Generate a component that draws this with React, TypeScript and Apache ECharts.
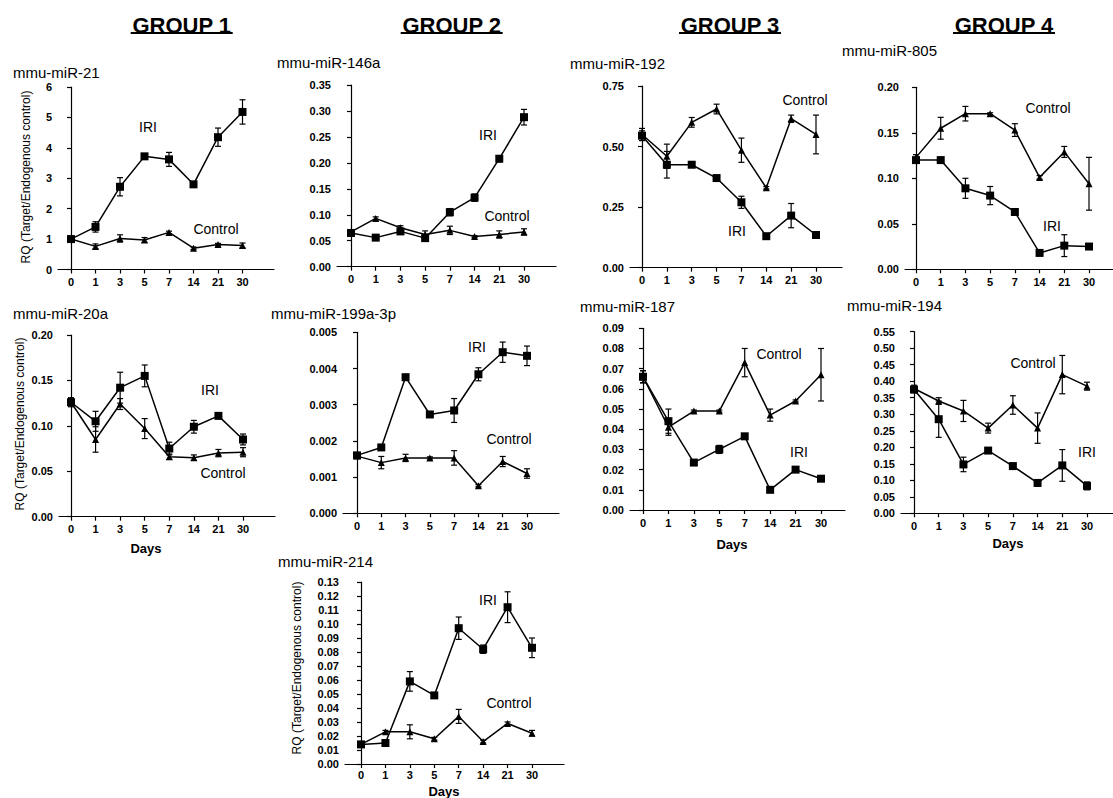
import React, { useEffect, useRef } from "react";
import * as echarts from "echarts";

// ---------- DATA ----------
const days = ["0", "1", "3", "5", "7", "14", "21", "30"];

const mir21Iri = [1.0, 1.4, 2.72, 3.72, 3.62, 2.8, 4.35, 5.18];
const mir21IriErr = [0.05, 0.17, 0.3, 0.05, 0.23, 0.05, 0.3, 0.4];
const mir21Ctrl = [1.0, 0.76, 1.02, 0.97, 1.22, 0.7, 0.82, 0.79];
const mir21CtrlErr = [0.05, 0.08, 0.12, 0.08, 0.04, 0.04, 0.04, 0.08];

const mir20aIri = [0.126, 0.105, 0.142, 0.155, 0.075, 0.099, 0.111, 0.085];
const mir20aIriErr = [0.005, 0.011, 0.017, 0.012, 0.007, 0.007, 0.003, 0.006];
const mir20aCtrl = [0.126, 0.085, 0.124, 0.097, 0.066, 0.065, 0.07, 0.071];
const mir20aCtrlErr = [0.004, 0.014, 0.006, 0.011, 0.003, 0.003, 0.004, 0.005];

const mir146aIri = [0.065, 0.056, 0.068, 0.055, 0.105, 0.133, 0.208, 0.288];
const mir146aIriErr = [0.005, 0.003, 0.005, 0.005, 0.007, 0.007, 0.006, 0.015];
const mir146aCtrl = [0.067, 0.093, 0.075, 0.062, 0.07, 0.058, 0.062, 0.067];
const mir146aCtrlErr = [0.004, 0.003, 0.004, 0.007, 0.008, 0.002, 0.007, 0.006];

const mir199Iri = [0.0016, 0.00182, 0.00376, 0.00273, 0.00284, 0.00384, 0.00445, 0.00435];
const mir199IriErr = [0.00005, 0.00005, 0.00004, 0.00005, 0.00033, 0.00018, 0.00028, 0.00027];
const mir199Ctrl = [0.00158, 0.0014, 0.00153, 0.00153, 0.00153, 0.00076, 0.00143, 0.0011];
const mir199CtrlErr = [0.00005, 0.00017, 0.0001, 0.00003, 0.0002, 0.00003, 0.00014, 0.00013];

const mir214Iri = [0.014, 0.015, 0.059, 0.049, 0.097, 0.082, 0.112, 0.083];
const mir214IriErr = [0.001, 0.001, 0.007, 0.002, 0.008, 0.003, 0.011, 0.007];
const mir214Ctrl = [0.014, 0.023, 0.023, 0.018, 0.034, 0.016, 0.029, 0.022];
const mir214CtrlErr = [0.001, 0.001, 0.005, 0.001, 0.005, 0.001, 0.001, 0.002];

const mir192Iri = [0.545, 0.425, 0.425, 0.37, 0.27, 0.13, 0.215, 0.135];
const mir192IriErr = [0.02, 0.055, 0.005, 0.01, 0.025, 0.005, 0.05, 0.005];
const mir192Ctrl = [0.55, 0.46, 0.6, 0.655, 0.485, 0.33, 0.615, 0.55];
const mir192CtrlErr = [0.025, 0.05, 0.02, 0.02, 0.05, 0.005, 0.015, 0.08];

const mir187Iri = [0.066, 0.044, 0.0235, 0.03, 0.0365, 0.01, 0.02, 0.0155];
const mir187IriErr = [0.003, 0.006, 0.001, 0.002, 0.001, 0.0005, 0.001, 0.0005];
const mir187Ctrl = [0.066, 0.041, 0.049, 0.049, 0.073, 0.047, 0.054, 0.067];
const mir187CtrlErr = [0.003, 0.004, 0.0005, 0.0005, 0.007, 0.003, 0.0005, 0.013];

const mir805Iri = [0.12, 0.12, 0.089, 0.081, 0.063, 0.018, 0.026, 0.025];
const mir805IriErr = [0.003, 0.003, 0.011, 0.01, 0.003, 0.001, 0.012, 0.001];
const mir805Ctrl = [0.123, 0.155, 0.171, 0.171, 0.153, 0.101, 0.129, 0.094];
const mir805CtrlErr = [0.003, 0.012, 0.008, 0.001, 0.007, 0.002, 0.006, 0.029];

const mir194Iri = [0.375, 0.285, 0.148, 0.19, 0.143, 0.092, 0.145, 0.083];
const mir194IriErr = [0.01, 0.055, 0.022, 0.008, 0.008, 0.01, 0.048, 0.012];
const mir194Ctrl = [0.378, 0.34, 0.31, 0.258, 0.328, 0.258, 0.42, 0.385];
const mir194CtrlErr = [0.01, 0.01, 0.032, 0.015, 0.028, 0.046, 0.058, 0.012];

const groupTitles = ["GROUP 1", "GROUP 2", "GROUP 3", "GROUP 4"];
const yAxisTitle = "RQ (Target/Endogenous control)";
const xAxisTitle = "Days";
const iriLabel = "IRI";
const ctrlLabel = "Control";

// ---------- LAYOUT ----------
const FONT = '"Liberation Sans", Arial, Helvetica, sans-serif';

const panels = [
  { title: "mmu-miR-21", iri: mir21Iri, iriErr: mir21IriErr, ctrl: mir21Ctrl, ctrlErr: mir21CtrlErr,
    yMax: 6, yStep: 1, dec: 0, L: 58, T: 87, B: 269.5, x0: 71, x30: 242.5, R: 274, lm: 7,
    tx: 13, ty: 72, iriPos: [148, 127], ctrlPos: [216, 229], yName: [26, 177], daysPos: null },
  { title: "mmu-miR-20a", iri: mir20aIri, iriErr: mir20aIriErr, ctrl: mir20aCtrl, ctrlErr: mir20aCtrlErr,
    yMax: 0.2, yStep: 0.05, dec: 2, L: 59, T: 335, B: 516.7, x0: 71, x30: 243, R: 275, lm: 7,
    tx: 13, ty: 313, iriPos: [210, 390], ctrlPos: [223, 473], yName: [20, 424], daysPos: [146, 548] },
  { title: "mmu-miR-146a", iri: mir146aIri, iriErr: mir146aIriErr, ctrl: mir146aCtrl, ctrlErr: mir146aCtrlErr,
    yMax: 0.35, yStep: 0.05, dec: 2, L: 337, T: 85, B: 266.7, x0: 351, x30: 524, R: 556, lm: 7,
    tx: 277, ty: 62, iriPos: [488, 135], ctrlPos: [507, 216], yName: null, daysPos: null },
  { title: "mmu-miR-199a-3p", iri: mir199Iri, iriErr: mir199IriErr, ctrl: mir199Ctrl, ctrlErr: mir199CtrlErr,
    yMax: 0.005, yStep: 0.001, dec: 3, L: 343, T: 332.3, B: 513.3, x0: 357, x30: 527, R: 559, lm: 7,
    tx: 271, ty: 313, iriPos: [477, 347], ctrlPos: [509, 439], yName: null, daysPos: null },
  { title: "mmu-miR-214", iri: mir214Iri, iriErr: mir214IriErr, ctrl: mir214Ctrl, ctrlErr: mir214CtrlErr,
    yMax: 0.13, yStep: 0.01, dec: 2, L: 345, T: 582, B: 764, x0: 361, x30: 532, R: 564, lm: 5,
    tx: 278, ty: 561, iriPos: [488, 600], ctrlPos: [509, 703], yName: [297, 668], daysPos: [444, 791] },
  { title: "mmu-miR-192", iri: mir192Iri, iriErr: mir192IriErr, ctrl: mir192Ctrl, ctrlErr: mir192CtrlErr,
    yMax: 0.75, yStep: 0.25, dec: 2, L: 630, T: 86, B: 267.7, x0: 642, x30: 816, R: 842, lm: 7,
    tx: 570, ty: 63, iriPos: [737, 231], ctrlPos: [805, 100], yName: null, daysPos: null },
  { title: "mmu-miR-187", iri: mir187Iri, iriErr: mir187IriErr, ctrl: mir187Ctrl, ctrlErr: mir187CtrlErr,
    yMax: 0.09, yStep: 0.01, dec: 2, L: 630, T: 328.3, B: 510, x0: 643, x30: 821, R: 845, lm: 7,
    tx: 580, ty: 306, iriPos: [799, 452], ctrlPos: [779, 354], yName: null, daysPos: [732, 544] },
  { title: "mmu-miR-805", iri: mir805Iri, iriErr: mir805IriErr, ctrl: mir805Ctrl, ctrlErr: mir805CtrlErr,
    yMax: 0.2, yStep: 0.05, dec: 2, L: 905, T: 87.3, B: 269.3, x0: 916, x30: 1089, R: 1113, lm: 7,
    tx: 842, ty: 50, iriPos: [1052, 226], ctrlPos: [1048, 108], yName: null, daysPos: null },
  { title: "mmu-miR-194", iri: mir194Iri, iriErr: mir194IriErr, ctrl: mir194Ctrl, ctrlErr: mir194CtrlErr,
    yMax: 0.55, yStep: 0.05, dec: 2, L: 901, T: 331.7, B: 513.3, x0: 914, x30: 1087, R: 1113, lm: 7,
    tx: 847, ty: 305, iriPos: [1087, 452], ctrlPos: [1033, 363], yName: null, daysPos: [1008, 543] },
];

const groupCenters = [181.7, 451.7, 730, 1004];

function errRender(params: any, api: any) {
  const x = api.value(0);
  const lo = api.value(1);
  const hi = api.value(2);
  const pHi = api.coord([x, hi]);
  const pLo = api.coord([x, lo]);
  const w = 3;
  const style = { stroke: "#000", lineWidth: 1.2 };
  return {
    type: "group",
    children: [
      { type: "line", shape: { x1: pHi[0], y1: pHi[1], x2: pLo[0], y2: pLo[1] }, style },
      { type: "line", shape: { x1: pHi[0] - w, y1: pHi[1], x2: pHi[0] + w, y2: pHi[1] }, style },
      { type: "line", shape: { x1: pLo[0] - w, y1: pLo[1], x2: pLo[0] + w, y2: pLo[1] }, style },
    ],
  };
}

function buildOption() {
  const grid: any[] = [];
  const xAxis: any[] = [];
  const yAxis: any[] = [];
  const series: any[] = [];
  const graphic: any[] = [];
  const idx = days.map((_, j) => j);

  panels.forEach((p, i) => {
    const band = (p.x30 - p.x0) / 7;
    const xmin = -(p.x0 - p.L) / band;
    const xmax = 7 + (p.R - p.x30) / band;
    grid.push({ left: p.L, top: p.T, width: p.R - p.L, height: p.B - p.T, containLabel: false });
    xAxis.push({
      type: "value",
      gridIndex: i,
      min: xmin,
      max: xmax,
      axisLine: { show: true, onZero: false, lineStyle: { color: "#000", width: 1.2 } },
      axisTick: { show: true, customValues: idx, length: 4, lineStyle: { color: "#000", width: 1.2 } },
      axisLabel: {
        customValues: idx,
        formatter: (v: number) => days[Math.round(v)] ?? "",
        color: "#000",
        fontSize: 11,
        fontWeight: "bold",
        fontFamily: FONT,
        margin: p.lm,
      },
      splitLine: { show: false },
    });
    yAxis.push({
      type: "value",
      gridIndex: i,
      min: 0,
      max: p.yMax,
      interval: p.yStep,
      axisLine: { show: true, lineStyle: { color: "#000", width: 1.2 } },
      axisTick: { show: true, length: 4, lineStyle: { color: "#000", width: 1.2 } },
      axisLabel: {
        formatter: (v: number) => v.toFixed(p.dec),
        color: "#000",
        fontSize: 11,
        fontWeight: "bold",
        fontFamily: FONT,
        margin: 6,
        showMaxLabel: true,
      },
      splitLine: { show: false },
    });

    const errData = (vals: number[], errs: number[]) =>
      vals.map((v, j) => [j, v - errs[j], v + errs[j]]).filter((_, j) => errs[j] > 0);

    series.push({
      type: "custom",
      xAxisIndex: i,
      yAxisIndex: i,
      renderItem: errRender,
      encode: { x: 0, y: [1, 2] },
      data: errData(p.ctrl, p.ctrlErr),
      z: 2,
      silent: true,
    });
    series.push({
      type: "custom",
      xAxisIndex: i,
      yAxisIndex: i,
      renderItem: errRender,
      encode: { x: 0, y: [1, 2] },
      data: errData(p.iri, p.iriErr),
      z: 2,
      silent: true,
    });
    series.push({
      type: "line",
      name: p.title + " Control",
      xAxisIndex: i,
      yAxisIndex: i,
      data: p.ctrl.map((v, j) => [j, v]),
      symbol: "triangle",
      symbolSize: 7,
      lineStyle: { color: "#000", width: 1.5 },
      itemStyle: { color: "#000" },
      z: 3,
    });
    series.push({
      type: "line",
      name: p.title + " IRI",
      xAxisIndex: i,
      yAxisIndex: i,
      data: p.iri.map((v, j) => [j, v]),
      symbol: "rect",
      symbolSize: 8,
      lineStyle: { color: "#000", width: 1.5 },
      itemStyle: { color: "#000" },
      z: 4,
    });

    graphic.push({
      type: "text",
      x: p.tx,
      y: p.ty,
      style: { text: p.title, fill: "#000", fontSize: 15, fontFamily: FONT, align: "left", verticalAlign: "middle" },
    });
    graphic.push({
      type: "text",
      x: p.iriPos[0],
      y: p.iriPos[1],
      style: { text: iriLabel, fill: "#000", fontSize: 14, fontFamily: FONT, align: "center", verticalAlign: "middle" },
    });
    graphic.push({
      type: "text",
      x: p.ctrlPos[0],
      y: p.ctrlPos[1],
      style: { text: ctrlLabel, fill: "#000", fontSize: 14, fontFamily: FONT, align: "center", verticalAlign: "middle" },
    });
    if (p.yName) {
      graphic.push({
        type: "text",
        x: p.yName[0],
        y: p.yName[1],
        rotation: Math.PI / 2,
        style: { text: yAxisTitle, fill: "#000", fontSize: 12, fontFamily: FONT, align: "center", verticalAlign: "middle" },
      });
    }
    if (p.daysPos) {
      graphic.push({
        type: "text",
        x: p.daysPos[0],
        y: p.daysPos[1],
        style: { text: xAxisTitle, fill: "#000", fontSize: 13, fontWeight: "bold", fontFamily: FONT, align: "center", verticalAlign: "middle" },
      });
    }
  });

  groupTitles.forEach((g, k) => {
    graphic.push({
      type: "text",
      x: groupCenters[k],
      y: 25,
      style: { text: g, fill: "#000", fontSize: 22, fontWeight: "bold", fontFamily: FONT, align: "center", verticalAlign: "middle" },
    });
    graphic.push({
      type: "line",
      shape: { x1: groupCenters[k] - 51, y1: 33, x2: groupCenters[k] + 51, y2: 33 },
      style: { stroke: "#000", lineWidth: 1.8 },
    });
  });

  return {
    animation: false,
    backgroundColor: "#fff",
    grid,
    xAxis,
    yAxis,
    series,
    graphic,
  };
}

export default function App() {
  const ref = useRef<HTMLDivElement>(null);
  useEffect(() => {
    document.body.style.margin = "0";
    if (!ref.current) return;
    const chart = echarts.init(ref.current, undefined, { renderer: "svg" });
    chart.setOption(buildOption() as any);
    return () => chart.dispose();
  }, []);
  return <div ref={ref} style={{ width: 1113, height: 798 }} />;
}
